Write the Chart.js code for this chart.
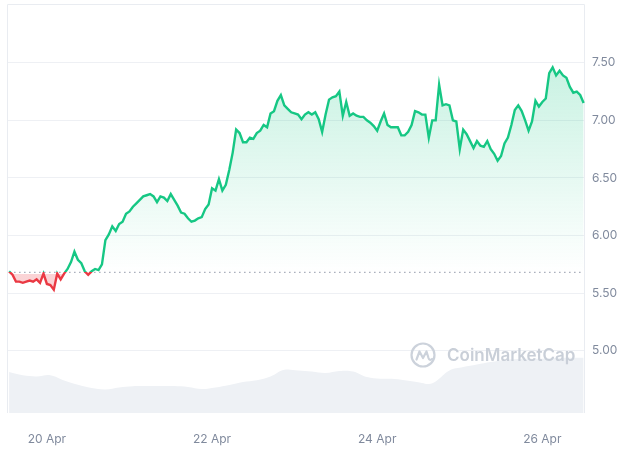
<!DOCTYPE html>
<html>
<head>
<meta charset="utf-8">
<script src="https://cdn.jsdelivr.net/npm/chart.js@4.4.1/dist/chart.umd.min.js"></script>
<style>
  html, body { margin: 0; padding: 0; background: #fff; }
  #wrap { position: relative; width: 623px; height: 451px; }
  #mark { position: absolute; left: 410px; top: 342px; height: 26px; display: flex; align-items: center;
          font-family: Inter, "Noto Sans", sans-serif; font-weight: 600; font-size: 17px; color: #c9cfd8;
          pointer-events: none; }
  #mark svg { margin-right: 11px; }
</style>
</head>
<body>
<div id="wrap">
  <canvas id="priceChart" width="623" height="451"></canvas>
  <div id="mark">
    <svg width="26" height="26" viewBox="0 0 26 26">
      <circle cx="13" cy="13" r="11.5" fill="none" stroke="#ccd2db" stroke-width="2.2"/>
      <path d="M6.5 17.5 L9.5 9.5 L13 16 L16.5 9.5 L18.5 16 Q19.5 19 22 17" fill="none" stroke="#ccd2db" stroke-width="2.2" stroke-linejoin="round" stroke-linecap="round"/>
    </svg>
    <span>CoinMarketCap</span>
  </div>
</div>
<script>
// hours counted from 20 Apr 00:00, one price per hour
var firstHour = -11;
var prices = [
  5.69, 5.66, 5.60, 5.60, 5.59, 5.60, 5.61, 5.60, 5.62, 5.59, 5.67, 5.58,
  5.57, 5.53, 5.67, 5.62, 5.67, 5.71, 5.77, 5.86, 5.79, 5.76, 5.69, 5.66,
  5.69, 5.71, 5.70, 5.75, 5.96, 6.01, 6.08, 6.04, 6.10, 6.12, 6.19, 6.21,
  6.25, 6.28, 6.31, 6.34, 6.35, 6.36, 6.34, 6.29, 6.34, 6.33, 6.30, 6.36,
  6.31, 6.26, 6.20, 6.19, 6.15, 6.12, 6.13, 6.15, 6.16, 6.23, 6.27, 6.41,
  6.39, 6.49, 6.39, 6.44, 6.57, 6.72, 6.92, 6.89, 6.81, 6.81, 6.85, 6.84,
  6.89, 6.91, 6.96, 6.94, 7.06, 7.08, 7.17, 7.22, 7.13, 7.10, 7.07, 7.06,
  7.05, 7.01, 7.05, 7.07, 7.05, 7.07, 7.01, 6.90, 7.05, 7.18, 7.20, 7.21,
  7.25, 7.04, 7.16, 7.04, 7.06, 7.04, 7.03, 7.03, 7.00, 6.98, 6.95, 6.91,
  6.99, 7.06, 6.96, 6.94, 6.94, 6.94, 6.87, 6.87, 6.90, 6.96, 7.08, 7.07,
  7.05, 7.05, 6.85, 7.00, 7.00, 7.31, 7.13, 7.14, 7.13, 7.00, 6.99, 6.75,
  6.92, 6.88, 6.82, 6.76, 6.82, 6.78, 6.77, 6.82, 6.75, 6.71, 6.65, 6.69,
  6.80, 6.85, 6.96, 7.09, 7.13, 7.08, 7.00, 6.91, 6.99, 7.17, 7.12, 7.16,
  7.19, 7.41, 7.46, 7.39, 7.43, 7.39, 7.37, 7.29, 7.24, 7.25, 7.22, 7.15
];
var openPrice = 5.68;

// volume (millions), sampled every few hours
var volumeHours = [-11, -7, -3, 1, 5, 9, 13, 17, 21, 25, 29, 33, 37, 41, 45, 49, 53, 57, 61, 65,
  69, 73, 77, 81, 85, 89, 93, 97, 101, 105, 109, 111, 113, 117, 121, 125, 129, 133, 137, 141, 145, 149, 153, 156];
var volumes = [61.5, 56.5, 54.9, 56.7, 48.8, 42.3, 37.5, 35.3, 38.3, 40.2, 40.5, 40.5, 40.5, 39, 36, 38.3, 42, 46.5, 49.2, 54.8,
  64.8, 63.8, 62.3, 60, 63, 62.3, 54, 51.5, 51, 48.3, 45, 43.5, 47.3, 63.8, 69, 72.8, 76.5, 79.5, 81, 81.3, 82, 83, 83, 83];

var tickHours = [0, 48, 96, 144];
var tickLabels = ["20 Apr", "22 Apr", "24 Apr", "26 Apr"];
var priceTicks = [5.0, 5.5, 6.0, 6.5, 7.0, 7.5];

var green = "#16c784";
var red = "#ea3943";

var pricePoints = prices.map(function (p, i) { return { x: firstHour + i, y: p }; });
var lastHour = firstHour + prices.length - 1;
var volumePoints = volumes.map(function (v, i) { return { x: volumeHours[i], y: v }; });

// split colour at the opening price; gap = px the lower colour starts below it
function splitGradient(context, top, mid, low, gap) {
    var chart = context.chart, area = chart.chartArea;
    if (!area || !chart.scales.y) return top;
    var h = area.bottom - area.top;
    var yBase = chart.scales.y.getPixelForValue(openPrice);
    var r = Math.min(1, Math.max(0, (yBase - area.top) / h));
    var r2 = Math.min(1, r + gap / h);
    var g = chart.ctx.createLinearGradient(0, area.top, 0, area.bottom);
    g.addColorStop(0, top);
    g.addColorStop(r, mid);
    g.addColorStop(r2, mid);
    g.addColorStop(r2, low);
    g.addColorStop(1, low);
    return g;
}

var frame = {
    id: "frame",
    beforeDatasetsDraw: function (chart) {
        var a = chart.chartArea, c = chart.ctx;
        c.save();
        c.strokeStyle = "#e9ecf1";
        c.lineWidth = 1;
        c.beginPath();
        c.moveTo(a.left + 0.5, a.bottom);
        c.lineTo(a.left + 0.5, a.top + 0.5);
        c.lineTo(a.right - 0.5, a.top + 0.5);
        c.lineTo(a.right - 0.5, a.bottom);
        c.stroke();
        c.restore();
    }
};

Chart.defaults.font.family = 'Inter, "Noto Sans", sans-serif';
Chart.defaults.font.size = 12;
Chart.defaults.color = "#808a9d";

new Chart(document.getElementById("priceChart").getContext("2d"), {
    type: "line",
    data: {
        datasets: [
            {
                data: pricePoints,
                yAxisID: "y",
                borderWidth: 2.4,
                pointRadius: 0,
                tension: 0,
                borderColor: function (ctx) { return splitGradient(ctx, green, green, red, 0); },
                backgroundColor: function (ctx) {
                    return splitGradient(ctx, "rgba(22,199,132,0.30)", "rgba(22,199,132,0)", "rgba(234,57,67,0.22)", 1.5);
                },
                fill: { target: { value: openPrice } }
            },
            {
                data: [{ x: firstHour, y: openPrice }, { x: lastHour, y: openPrice }],
                yAxisID: "y",
                borderColor: "#a6acb9",
                borderWidth: 1.3,
                borderDash: [1.5, 3.5],
                pointRadius: 0,
                fill: false
            },
            {
                data: volumePoints,
                yAxisID: "vol",
                borderWidth: 0,
                pointRadius: 0,
                tension: 0.4,
                backgroundColor: "#eef1f5",
                fill: "origin"
            }
        ]
    },
    options: {
        responsive: false,
        animation: false,
        layout: { padding: { left: 7, top: 4, right: 0, bottom: 0 } },
        plugins: { legend: { display: false }, tooltip: { enabled: false } },
        scales: {
            x: {
                type: "linear",
                min: -11.6,
                max: 156.4,
                afterFit: function (axis) {
                    axis.height = 38;
                    axis.paddingLeft = 0;
                    axis.paddingRight = 0;
                },
                afterBuildTicks: function (axis) {
                    axis.ticks = tickHours.map(function (h) { return { value: h }; });
                },
                ticks: {
                    padding: 11,
                    maxRotation: 0,
                    autoSkip: false,
                    callback: function (v) { return tickLabels[tickHours.indexOf(v)]; }
                },
                grid: { display: false },
                border: { display: false }
            },
            y: {
                position: "right",
                min: 4.46,
                max: 8.01,
                afterFit: function (axis) {
                    axis.width = 38;
                    axis.paddingTop = 0;
                    axis.paddingBottom = 0;
                },
                afterBuildTicks: function (axis) {
                    axis.ticks = priceTicks.map(function (v) { return { value: v }; });
                },
                ticks: {
                    padding: 7,
                    callback: function (v) { return v.toFixed(2); }
                },
                grid: { color: "#eef0f4", drawTicks: false },
                border: { display: false }
            },
            vol: {
                display: false,
                min: 0,
                max: 614
            }
        }
    },
    plugins: [frame]
});
</script>
</body>
</html>
